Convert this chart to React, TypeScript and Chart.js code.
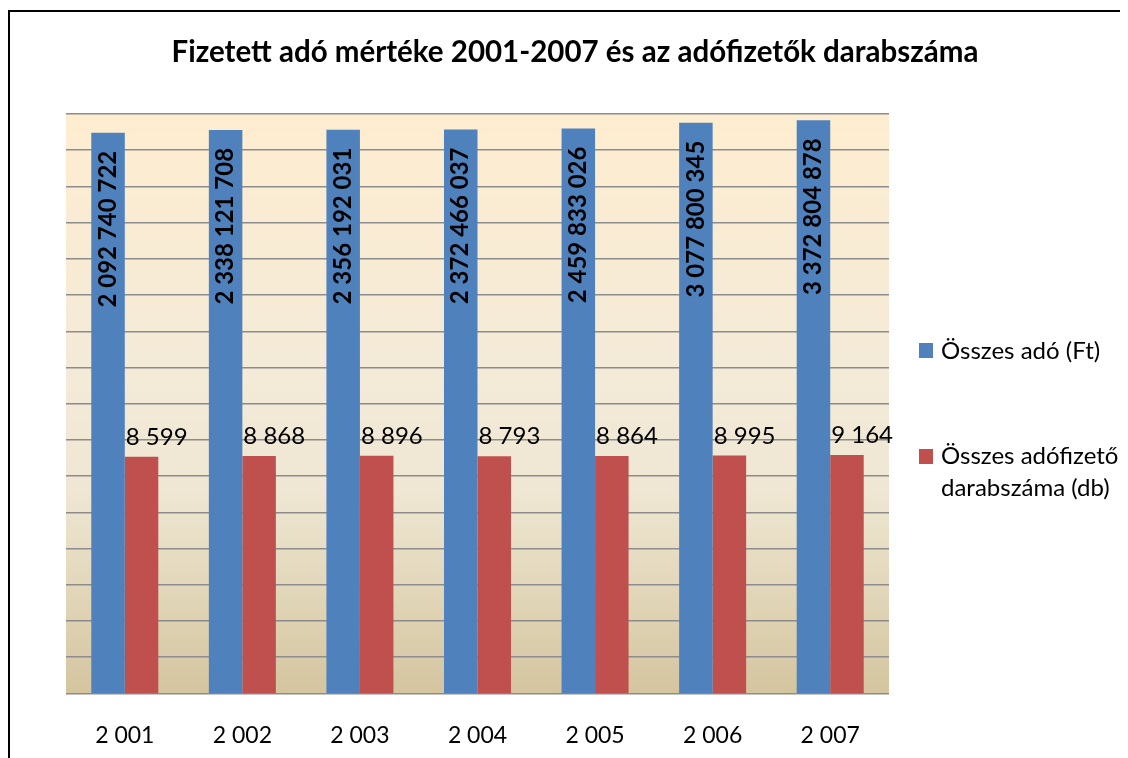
import React, { useEffect, useRef } from "react";
import { Chart, registerables } from "chart.js";

Chart.register(...registerables);

const categories = ["2 001", "2 002", "2 003", "2 004", "2 005", "2 006", "2 007"];
const osszesAdo = [2092740722, 2338121708, 2356192031, 2372466037, 2459833026, 3077800345, 3372804878];
const adofizetok = [8599, 8868, 8896, 8793, 8864, 8995, 9164];
const seriesNames = ["Összes adó (Ft)", ["Összes adófizető", "darabszáma (db)"]];
const gridValues = [
  1, 4, 16, 64, 256, 1024, 4096, 16384, 65536, 262144, 1048576, 4194304,
  16777216, 67108864, 268435456, 1073741824, 4294967296,
];
const titleText = "Fizetett adó mértéke 2001-2007 és az adófizetők darabszáma";

const BLUE = "#4F81BD";
const RED = "#C0504D";
const FONT = "Lato";

function fmt(v: number): string {
  return String(v).replace(/\B(?=(\d{3})+(?!\d))/g, " ");
}

const decorPlugin = {
  id: "decor",
  beforeDraw(chart: any) {
    const { ctx, chartArea: a } = chart;
    ctx.save();
    const g = ctx.createLinearGradient(0, a.top, 0, a.bottom);
    g.addColorStop(0, "#FEEDD0");
    g.addColorStop(0.45, "#F3EAD8");
    g.addColorStop(0.65, "#EFE7D3");
    g.addColorStop(1, "#D4C59F");
    ctx.fillStyle = g;
    ctx.fillRect(a.left, a.top, a.right - a.left, a.bottom - a.top);
    ctx.restore();
  },
  afterDraw(chart: any) {
    const { ctx } = chart;
    ctx.save();
    // frame
    ctx.fillStyle = "#000";
    ctx.fillRect(0, 2, 2, chart.height);
    ctx.fillRect(0, 2, chart.width, 2);
    // title
    ctx.font = `bold 29.5px ${FONT}`;
    ctx.textAlign = "center";
    ctx.textBaseline = "alphabetic";
    ctx.fillText(titleText, 567, 54);
    // legend
    ctx.font = `24px ${FONT}`;
    ctx.textAlign = "left";
    ctx.fillStyle = BLUE;
    ctx.fillRect(911, 335, 14, 15);
    ctx.fillStyle = "#000";
    ctx.fillText(seriesNames[0] as string, 933, 351);
    ctx.fillStyle = RED;
    ctx.fillRect(911, 441, 14, 15);
    ctx.fillStyle = "#000";
    const l2 = seriesNames[1] as string[];
    ctx.fillText(l2[0], 933, 456);
    ctx.fillText(l2[1], 933, 488);
    ctx.restore();
  },
  afterDatasetsDraw(chart: any) {
    const { ctx } = chart;
    ctx.save();
    ctx.fillStyle = "#000";
    const m0 = chart.getDatasetMeta(0);
    ctx.font = `bold 24px ${FONT}`;
    ctx.textAlign = "right";
    ctx.textBaseline = "middle";
    m0.data.forEach((bar: any, i: number) => {
      ctx.save();
      ctx.translate(bar.x, bar.y + 18);
      ctx.rotate(-Math.PI / 2);
      ctx.fillText(fmt(osszesAdo[i]), 0, 0);
      ctx.restore();
    });
    const m1 = chart.getDatasetMeta(1);
    ctx.font = `24px ${FONT}`;
    ctx.textAlign = "left";
    ctx.textBaseline = "alphabetic";
    m1.data.forEach((bar: any, i: number) => {
      ctx.fillText(fmt(adofizetok[i]), bar.x - bar.width / 2 + 1, bar.y - 12);
    });
    ctx.restore();
  },
};

export default function App() {
  const ref = useRef<HTMLCanvasElement | null>(null);
  useEffect(() => {
    if (!ref.current) return;
    const chart = new Chart(ref.current, {
      type: "bar",
      data: {
        labels: categories,
        datasets: [
          {
            label: seriesNames[0] as string,
            data: osszesAdo,
            backgroundColor: BLUE,
            categoryPercentage: 0.57,
            barPercentage: 1.0,
          },
          {
            label: (seriesNames[1] as string[]).join(" "),
            data: adofizetok,
            backgroundColor: RED,
            categoryPercentage: 0.57,
            barPercentage: 1.0,
          },
        ],
      },
      options: {
        animation: false,
        responsive: true,
        maintainAspectRatio: false,
        layout: { padding: { left: 58, right: 239, top: 106, bottom: -19 } },
        plugins: {
          legend: { display: false },
          title: { display: false },
          tooltip: { enabled: false },
        },
        scales: {
          x: {
            grid: { display: false, drawTicks: false },
            border: { display: false },
            ticks: {
              color: "#000",
              font: { family: FONT, size: 23 },
              padding: 28,
              maxRotation: 0,
            },
          },
          y: {
            type: "logarithmic",
            min: 1,
            max: 4294967296,
            border: { display: false },
            grid: { color: "#8c8c8c", lineWidth: 1.5, drawTicks: false },
            ticks: { display: false },
            afterBuildTicks: (scale: any) => {
              scale.ticks = gridValues.map((v) => ({ value: v }));
            },
          },
        },
      },
      plugins: [decorPlugin],
    });
    return () => chart.destroy();
  }, []);
  return (
    <div style={{ position: "relative", width: "1120px", height: "750px" }}>
      <canvas ref={ref} />
    </div>
  );
}
